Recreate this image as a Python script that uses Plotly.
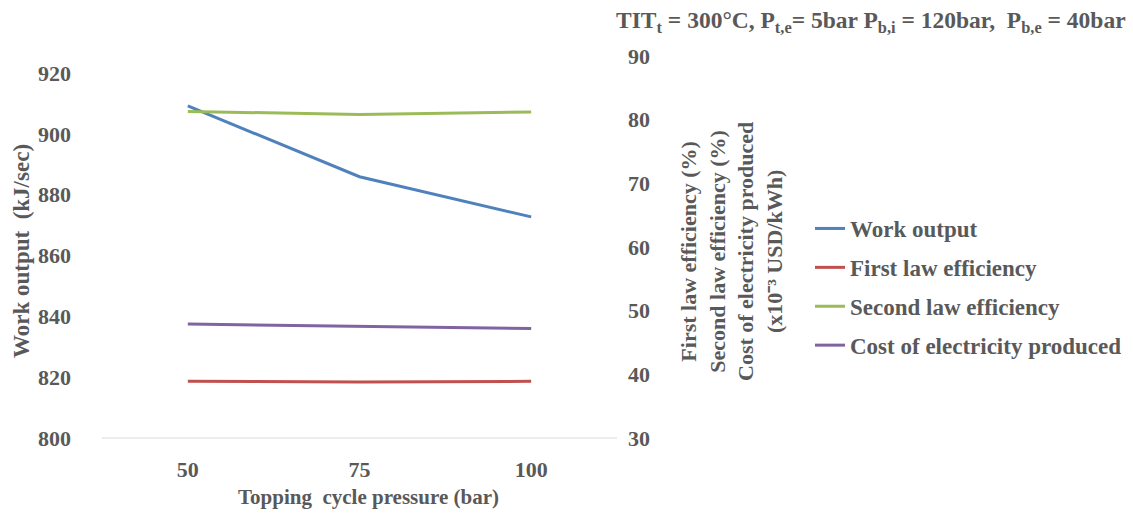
import plotly.graph_objects as go

pressure = ["50", "75", "100"]
work_output = [909.2, 885.9, 872.7]
first_law_eff = [38.9, 38.8, 38.9]
second_law_eff = [81.3, 80.8, 81.2]
cost_elec = [47.9, 47.6, 47.2]

left_ticks = [800, 820, 840, 860, 880, 900, 920]
right_ticks = [30, 40, 50, 60, 70, 80, 90]

FONT = "Liberation Serif"
TXT = "#595959"
TICKFONT = dict(family=FONT, size=22, color=TXT, weight="bold")

fig = go.Figure()
fig.add_trace(go.Scatter(x=pressure, y=work_output, name="<b>Work output</b>", mode="lines",
                         line=dict(color="#4F81BD", width=3), legendgroup="a"))
fig.add_trace(go.Scatter(x=pressure, y=first_law_eff, name="<b>First law efficiency</b>", mode="lines",
                         line=dict(color="#C0504D", width=3), yaxis="y2", legendgroup="b"))
fig.add_trace(go.Scatter(x=pressure, y=second_law_eff, name="<b>Second law efficiency</b>", mode="lines",
                         line=dict(color="#9BBB59", width=3), yaxis="y2", legendgroup="c"))
fig.add_trace(go.Scatter(x=pressure, y=cost_elec, name="<b>Cost of electricity produced</b>", mode="lines",
                         line=dict(color="#8064A2", width=3), yaxis="y2", legendgroup="d"))

fig.update_layout(
    width=1133, height=516,
    margin=dict(l=102, r=516, t=56, b=78, autoexpand=False),
    paper_bgcolor="white", plot_bgcolor="white",
    font=dict(family=FONT, color=TXT, size=18),
    showlegend=True,
    legend=dict(x=(810 - 102) / 515, y=(438 - 207) / 382, xanchor="left", yanchor="top",
                font=dict(family=FONT, size=23, color=TXT),
                traceorder="grouped", tracegroupgap=6, bgcolor="rgba(0,0,0,0)"),
    xaxis=dict(type="category", range=[-0.5, 2.5], showgrid=False, zeroline=False,
               showline=False, ticks="", tickfont=TICKFONT, ticklabelstandoff=16),
    yaxis=dict(range=[800, 925.6], tickvals=left_ticks, showgrid=False, zeroline=False,
               showline=False, ticks="", tickfont=TICKFONT, ticklabelstandoff=30),
    yaxis2=dict(range=[30, 90], tickvals=right_ticks, overlaying="y", side="right",
                showgrid=False, zeroline=False, showline=False, ticks="",
                tickfont=TICKFONT, ticklabelstandoff=10),
)

# bottom axis line
fig.add_shape(type="line", xref="paper", yref="paper", x0=0, x1=1, y0=0, y1=0,
              line=dict(color="#D9D9D9", width=1))

annotations = [
    dict(text="<b>Topping  cycle pressure (bar)</b>", x=(368 - 102) / 515, y=(438 - 497) / 382,
         xref="paper", yref="paper", xanchor="center", yanchor="middle", showarrow=False,
         font=dict(size=21)),
    dict(text="<b>Work output  (kJ/sec)</b>", x=(21 - 102) / 515, y=(438 - 251) / 382,
         xref="paper", yref="paper", xanchor="center", yanchor="middle", textangle=-90,
         showarrow=False, font=dict(size=23)),
    dict(text="<b>First law efficiency (%)<br>Second law efficiency (%)<br>Cost of electricity produced<br>(x10⁻³ USD/kWh)</b>",
         x=(731 - 102) / 515, y=(438 - 252) / 382, xref="paper", yref="paper",
         xanchor="center", yanchor="middle", textangle=-90, showarrow=False,
         font=dict(size=22)),
    dict(text="<b>TIT<sub>t</sub> = 300°C, P<sub>t,e</sub>= 5bar P<sub>b,i</sub> = 120bar,  P<sub>b,e</sub> = 40bar</b>",
         x=(1128 - 102) / 515, y=(438 - 22) / 382, xref="paper", yref="paper",
         xanchor="right", yanchor="middle", showarrow=False, font=dict(size=23.5)),
]
fig.update_layout(annotations=annotations)

fig.write_html("out.html")
